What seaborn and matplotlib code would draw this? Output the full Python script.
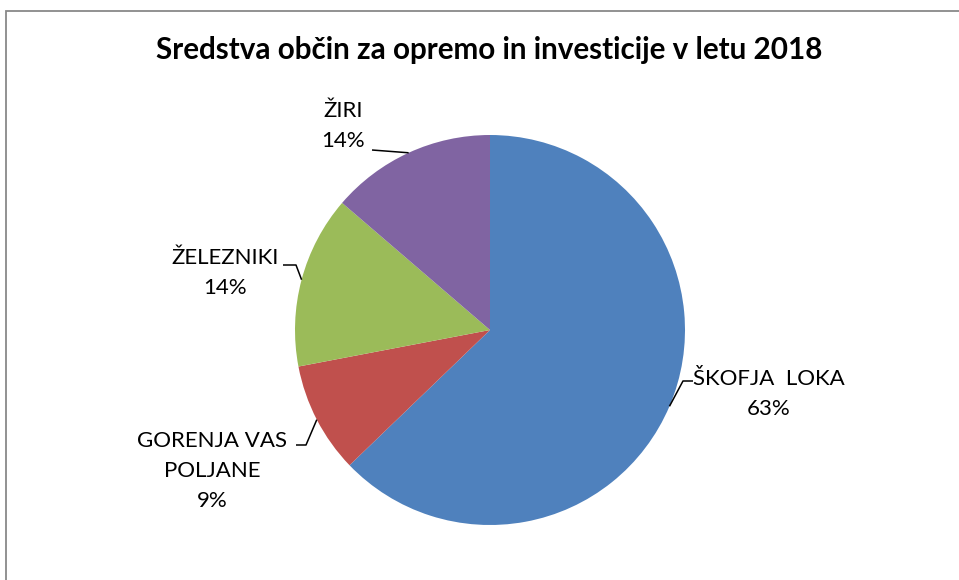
import numpy as np
import matplotlib
matplotlib.use("Agg")
import matplotlib.pyplot as plt
import seaborn as sns
from matplotlib.patches import Rectangle

# data
labels = ["ŠKOFJA  LOKA", "GORENJA VAS\nPOLJANE", "ŽELEZNIKI", "ŽIRI"]
shares = [62.8, 9.2, 14.3, 13.7]
colors = ["#4F81BD", "#C0504D", "#9BBB59", "#8064A2"]
title = "Sredstva občin za opremo in investicije v letu 2018"

sns.set_theme(style="white")
plt.rcParams["font.family"] = ["Lato", "DejaVu Sans"]

W, H = 959, 580
fig = plt.figure(figsize=(W / 100, H / 100), dpi=100)
ax = fig.add_axes([0, 0, 1, 1])
ax.set_xlim(0, W)
ax.set_ylim(0, H)
ax.set_aspect("equal")
ax.axis("off")

# outer chart border (only top/left visible in the crop)
fig.patches.append(Rectangle((6 / W, -0.1), 1.2, 1 - 11 / H + 0.1,
                             transform=fig.transFigure, fill=False,
                             edgecolor="#898989", linewidth=1.3))

cx, cy, r = 490, H - 330, 195
wedges, _ = ax.pie(shares, colors=sns.color_palette(colors), startangle=90,
                   counterclock=False, center=(cx, cy), radius=r,
                   wedgeprops=dict(linewidth=0))
ax.set_xlim(0, W)
ax.set_ylim(0, H)

fig.text(489 / W, 1 - 50 / H, title, ha="center", va="center",
         fontsize=21.3, fontweight="bold", color="black")

# label layout: text centre, elbow of leader line
layout = [
    dict(text=(769, 394), elbow=[(693, 381), (683, 381)]),
    dict(text=(212, 471), elbow=[(296, 445), (306, 445)]),
    dict(text=(225, 273), elbow=[(283, 265), (296, 265)]),
    dict(text=(343, 126), elbow=[(372, 150)]),
]
total = sum(shares)
for w, lab, val, lay in zip(wedges, labels, shares, layout):
    mid = np.deg2rad((w.theta1 + w.theta2) / 2)
    ex, ey = cx + r * np.cos(mid), cy + r * np.sin(mid)
    pts = [(x, H - y) for x, y in lay["elbow"]] + [(ex, ey)]
    xs, ys = zip(*pts)
    ax.plot(xs, ys, color="black", linewidth=1.1, solid_capstyle="butt")
    tx, ty = lay["text"]
    ax.text(tx, H - ty, f"{lab}\n{val / total * 100:.0f}%", ha="center",
            va="center", fontsize=16, linespacing=1.62, color="black")

fig.savefig("out.png", dpi=100)
